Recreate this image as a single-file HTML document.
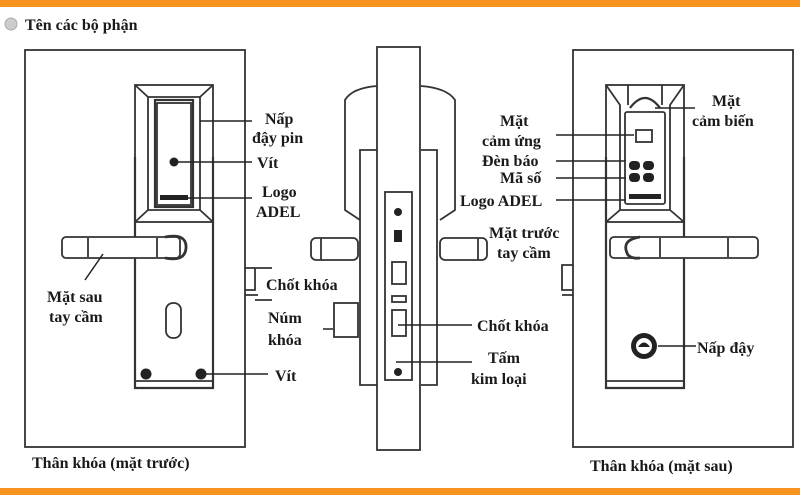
<!DOCTYPE html>
<html><head><meta charset="utf-8"><style>
html,body{margin:0;padding:0;background:#fff}
svg{display:block}
text{font-family:"Liberation Serif",serif;font-weight:bold;fill:#1a1a1a;font-size:16px}
</style></head><body>
<svg width="800" height="495" viewBox="0 0 800 495" xmlns="http://www.w3.org/2000/svg">
<rect width="800" height="495" fill="#fff"/>
<rect x="0" y="0" width="800" height="7" fill="#f7931e"/>
<rect x="0" y="488" width="800" height="7" fill="#f7931e"/>
<circle cx="11" cy="24" r="6" fill="#ccc" stroke="#aaa"/>
<text x="25" y="30" font-size="20">Tên các bộ phận</text>

<g fill="none" stroke="#333" stroke-width="1.8">
<!-- left panel -->
<rect x="25" y="50" width="220" height="397"/>
<rect x="135" y="85" width="78" height="137"/>
<path d="M135 85 L148 97 L200 97 L213 85 M148 97 L148 210 L200 210 L200 97 M135 222 L148 210 M213 222 L200 210"/>
<rect x="155" y="100" width="38" height="107" stroke-width="2.2"/>
<rect x="157" y="103" width="34" height="102"/>
<path d="M135 157 V388 H213 V157" stroke-width="2.2"/>
<line x1="136" y1="381" x2="212" y2="381"/>
<rect x="62" y="237" width="118" height="21" rx="4" fill="#fff"/>
<line x1="88" y1="238" x2="88" y2="257"/><line x1="157" y1="238" x2="157" y2="257"/>
<path d="M165 237 Q187 233 186 248 Q185 262 165 258" stroke-width="2.8"/>
<rect x="166" y="303" width="15" height="35" rx="7"/>
<!-- middle -->
<rect x="377" y="47" width="43" height="403"/>
<path d="M377 86 Q352 88 345 100 V210 L360 220"/>
<path d="M377 150 H360 V385 H377" />
<path d="M421 86 Q447 88 455 100 V210 L440 220"/>
<path d="M421 150 H437 V385 H421"/>
<rect x="385" y="192" width="27" height="188"/>
<rect x="392" y="262" width="14" height="22"/><rect x="392" y="296" width="14" height="6"/>
<rect x="392" y="310" width="14" height="26"/>
<rect x="311" y="238" width="47" height="22" rx="5"/>
<line x1="321" y1="238" x2="321" y2="260"/>
<rect x="440" y="238" width="47" height="22" rx="5"/>
<line x1="478" y1="238" x2="478" y2="260"/>
<rect x="334" y="303" width="24" height="34"/>
<path d="M245 268 H255 V290 H245 M245 295 H258 M255 268 H272 M255 300 H272"/>
<!-- right panel -->
<rect x="573" y="50" width="220" height="397"/>
<rect x="606" y="85" width="78" height="137"/>
<path d="M606 85 L620 105 L620 210 L670 210 L670 105 L684 85 M606 222 L620 210 M684 222 L670 210 M628 85 V105 M662 85 V105"/>
<path d="M630 108 Q645 88 660 108" stroke-width="2.2"/>
<rect x="625" y="112" width="40" height="92" rx="2"/>
<rect x="636" y="130" width="16" height="12"/>
<path d="M606 157 V388 H684 V157" stroke-width="2.2"/>
<line x1="607" y1="381" x2="683" y2="381"/>
<rect x="610" y="237" width="148" height="21" rx="4" fill="#fff"/>
<line x1="660" y1="238" x2="660" y2="257"/><line x1="728" y1="238" x2="728" y2="257"/>
<path d="M640 237 Q620 240 628 255 Q632 259 640 258" stroke-width="2.8"/>
<path d="M573 265 H562 V290 H573 M562 295 H573"/>
</g>
<g fill="#222">
<circle cx="174" cy="162" r="4.5"/>
<rect x="160" y="195" width="28" height="5"/>
<circle cx="146" cy="374" r="5.5"/><circle cx="201" cy="374" r="5.5"/>
<circle cx="398" cy="212" r="4"/><circle cx="398" cy="372" r="4"/>
<rect x="394" y="230" width="8" height="12"/>
<rect x="629" y="161" width="11" height="9" rx="4"/><rect x="643" y="161" width="11" height="9" rx="4"/>
<rect x="629" y="173" width="11" height="9" rx="4"/><rect x="643" y="173" width="11" height="9" rx="4"/>
<rect x="629" y="194" width="32" height="5"/>
<circle cx="644" cy="346" r="13"/>
</g>
<circle cx="644" cy="346" r="8" fill="#fff"/>
<path d="M638 347 Q644 338 650 347 Z" fill="#222"/>

<g stroke="#222" stroke-width="1.5" fill="none">
<line x1="200" y1="121" x2="252" y2="121"/>
<line x1="178" y1="162" x2="252" y2="162"/>
<line x1="170" y1="198" x2="252" y2="198"/>
<line x1="103" y1="254" x2="85" y2="280"/>
<line x1="206" y1="374" x2="268" y2="374"/>
<line x1="323" y1="329" x2="333" y2="329"/>
<line x1="398" y1="325" x2="472" y2="325"/>
<line x1="396" y1="362" x2="472" y2="362"/>
<line x1="556" y1="135" x2="634" y2="135"/>
<line x1="556" y1="161" x2="626" y2="161"/>
<line x1="556" y1="178" x2="626" y2="178"/>
<line x1="556" y1="200" x2="626" y2="200"/>
<line x1="655" y1="108" x2="695" y2="108"/>
<line x1="658" y1="346" x2="696" y2="346"/>
</g>

<text x="265" y="124">Nấp</text>
<text x="252" y="143">đậy pin</text>
<text x="257" y="168">Vít</text>
<text x="262" y="197">Logo</text>
<text x="256" y="217">ADEL</text>
<text x="47" y="302">Mặt sau</text>
<text x="49" y="322">tay cầm</text>
<text x="266" y="290">Chốt khóa</text>
<text x="268" y="323">Núm</text>
<text x="268" y="345">khóa</text>
<text x="275" y="381">Vít</text>
<text x="489" y="238">Mặt trước</text>
<text x="497" y="258">tay cầm</text>
<text x="477" y="331">Chốt khóa</text>
<text x="488" y="363">Tấm</text>
<text x="471" y="384">kim loại</text>
<text x="500" y="126">Mặt</text>
<text x="482" y="146">cảm ứng</text>
<text x="482" y="166">Đèn báo</text>
<text x="500" y="183">Mã số</text>
<text x="460" y="206">Logo ADEL</text>
<text x="712" y="106">Mặt</text>
<text x="692" y="126">cảm biến</text>
<text x="697" y="353">Nấp đậy</text>
<text x="32" y="468">Thân khóa (mặt trước)</text>
<text x="590" y="471">Thân khóa (mặt sau)</text>
</svg>
</body></html>
